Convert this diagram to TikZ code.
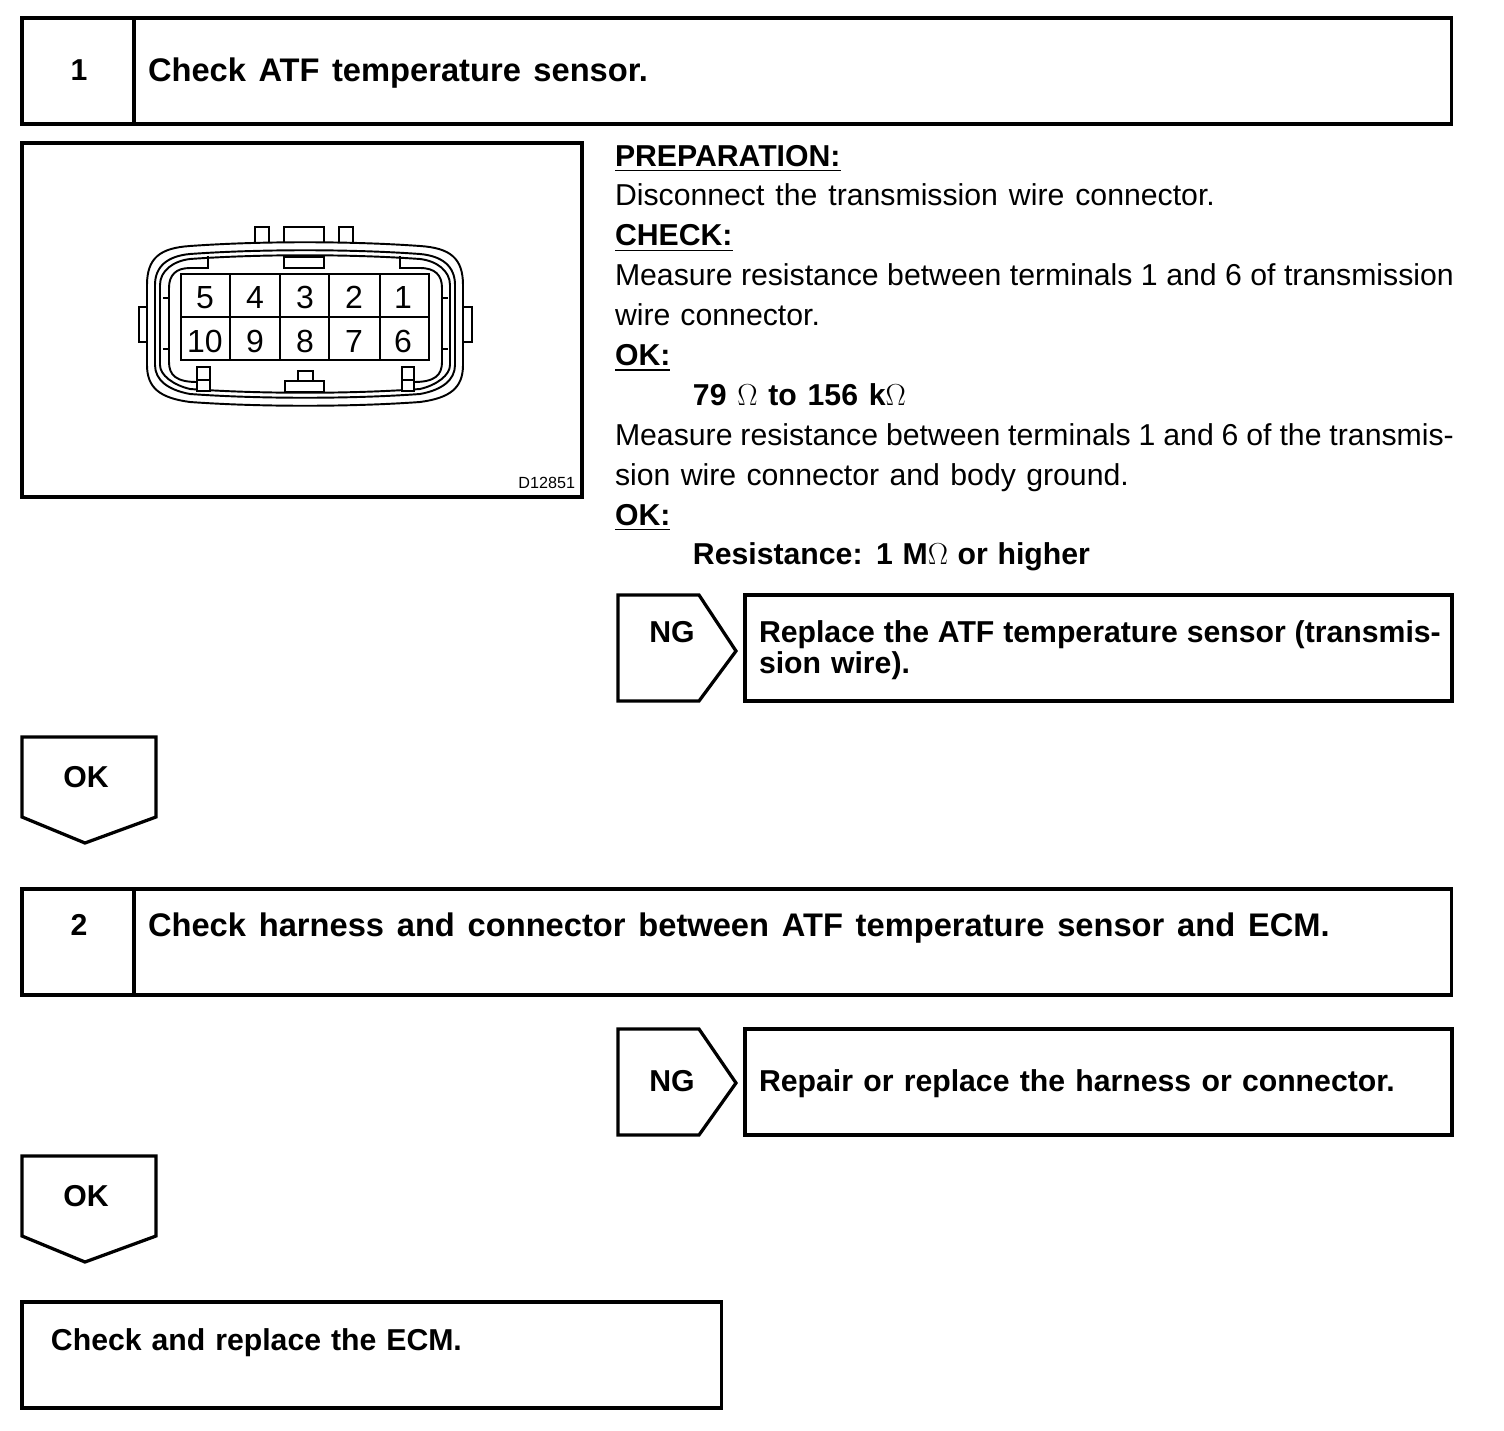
\documentclass[tikz,border=0pt]{standalone}
\usepackage{fontspec}
\setmainfont{Liberation Sans}
\usepackage{amsmath}
\usetikzlibrary{positioning}
\newcommand{\fitline}[2]{\makebox[#1][s]{#2}}

\begin{document}
\begin{tikzpicture}[
  x=0.02cm, y=-0.02cm,
  every node/.style={font=\fontsize{17.2}{22.7}\selectfont, inner sep=0pt, outer sep=0pt},
  box/.style={draw, line width=1.85pt, anchor=north west},
  numbox/.style={box, minimum width=2.24cm, minimum height=2.12cm},
  titlebox/.style={box, minimum width=26.36cm, minimum height=2.12cm},
  ngbox/.style={box, minimum width=14.14cm, minimum height=2.12cm},
  head/.style={font=\fontsize{17.2}{17.2}\selectfont\bfseries, anchor=base west},
  title/.style={font=\fontsize{18.6}{18.6}\selectfont\bfseries, anchor=base west},
  tag/.style={font=\fontsize{17.2}{17.2}\selectfont\bfseries, anchor=base},
  marker/.style={line width=1.85pt, line join=miter},
  conn/.style={line width=1.1pt},
  pin/.style={font=\fontsize{18.2}{18.2}\selectfont, anchor=base}
]
  \useasboundingbox (0,0) rectangle (1504,1430);

  % Step 1
  \node[numbox] (numa) at (22,18) {};
  \node[titlebox] (titlea) at (134,18) {};
  \node[tag] (numatext) at (79,80) {1};
  \node[title] (titleatext) at (148,81) {\fitline{10cm}{Check ATF temperature sensor.}};

  % Connector view
  \node[box, minimum width=11.2cm, minimum height=7.08cm] (figa) at (22,143) {};
  \node[font=\fontsize{9.2}{9.2}\selectfont, anchor=base east] (figlabel) at (575,488) {D12851};

  \foreach \i in {0,8,13} {
    \draw[conn] ({147+\i},285) .. controls ({147+\i},{258+\i}) and ({160+\i},{248+\i}) .. (190,{246+\i})
      .. controls (260,{241+\i}) and (350,{241+\i}) .. (420,{246+\i})
      .. controls ({450-\i},{248+\i}) and ({463-\i},{258+\i}) .. ({463-\i},285)
      -- ({463-\i},365) .. controls ({463-\i},{388-\i}) and ({450-\i},{398-\i}) .. (420,{402-\i})
      .. controls (350,{407-\i}) and (260,{407-\i}) .. (190,{402-\i})
      .. controls ({160+\i},{398-\i}) and ({147+\i},{388-\i}) .. ({147+\i},365) -- cycle;
  }
  % inner wall
  \draw[conn] (208,256) -- (208,268) -- (190,268) .. controls (176,268) and (169,275) .. (169,288)
    -- (169,362) .. controls (169,375) and (176,382) .. (197,382);
  \draw[conn] (400,256) -- (400,268) -- (420,268) .. controls (435,268) and (442,275) .. (442,288)
    -- (442,362) .. controls (442,375) and (435,382) .. (414,382);
  % tabs
  \draw[conn] (255,243) -- (255,227) -- (269,227) -- (269,243);
  \draw[conn] (284,243) -- (284,227) -- (324,227) -- (324,243);
  \draw[conn] (339,243) -- (339,227) -- (353,227) -- (353,243);
  \draw[conn, fill=white] (284,257) rectangle (324,268);
  \draw[conn, fill=white] (197,367) rectangle (210,391);
  \draw[conn] (197,380) -- (210,380);
  \draw[conn, fill=white] (402,367) rectangle (414,391);
  \draw[conn] (402,380) -- (414,380);
  \draw[conn, fill=white] (298,371) rectangle (313,381);
  \draw[conn, fill=white] (285,381) rectangle (324,392);
  \draw[conn] (147,307) -- (139,307) -- (139,342) -- (147,342);
  \draw[conn] (463,307) -- (472,307) -- (472,342) -- (463,342);
  \draw[conn] (163,298) -- (169,298) (163,349) -- (169,349);
  \draw[conn] (442,298) -- (448,298) (442,349) -- (448,349);
  % terminals
  \draw[conn, fill=white] (181,274) rectangle (429,360);
  \draw[conn] (181,317) -- (429,317);
  \foreach \x in {230,280,329,380} {
    \draw[conn] (\x,274) -- (\x,360);
  }
  \foreach \n/\x in {5/205,4/255,3/305,2/354,1/403} {
    \node[pin] (pin\n) at (\x,308) {\n};
  }
  \foreach \n/\x in {10/205,9/255,8/305,7/354,6/403} {
    \node[pin] (pin\n) at (\x,352) {\n};
  }

  % Instructions
  \node[anchor=north west, align=left] (prep) at (615,145) {%
    \underline{\textbf{PREPARATION:}}\\
    \fitline{12cm}{Disconnect the transmission wire connector.}\\
    \underline{\textbf{CHECK:}}\\
    \fitline{16.78cm}{Measure resistance between terminals 1 and 6 of transmission}\\
    \fitline{4.1cm}{wire connector.}\\
    \underline{\textbf{OK:}}\\
    \hspace*{1.56cm}\fitline{4.26cm}{\textbf{79 $\Omega$ to 156 k$\Omega$}}\\
    \fitline{16.78cm}{Measure resistance between terminals 1 and 6 of the transmis-}\\
    \fitline{10.28cm}{sion wire connector and body ground.}\\
    \underline{\textbf{OK:}}\\
    \hspace*{1.56cm}\fitline{7.94cm}{\textbf{Resistance: 1 M$\Omega$ or higher}}};

  % NG 1
  \draw[marker] (618,595) -- (699,595) -- (736,651) -- (699,701) -- (618,701) -- cycle;
  \node[tag] (nga) at (672,642) {NG};
  \node[ngbox] (repa) at (745,595) {};
  \node[head] (repatext) at (759,642) {\fitline{13.64cm}{Replace the ATF temperature sensor (transmis-}};
  \node[head] (repatextb) at (759,673) {\fitline{3.02cm}{sion wire).}};

  % OK 1
  \draw[marker] (22,737) -- (156,737) -- (156,817) -- (85,843) -- (22,817) -- cycle;
  \node[tag] (oka) at (86,787) {OK};

  % Step 2
  \node[numbox] (numb) at (22,889) {};
  \node[titlebox] (titleb) at (134,889) {};
  \node[tag] (numbtext) at (79,935) {2};
  \node[title] (titlebtext) at (148,936) {\fitline{23.64cm}{Check harness and connector between ATF temperature sensor and ECM.}};

  % NG 2
  \draw[marker] (618,1029) -- (699,1029) -- (736,1083) -- (699,1135) -- (618,1135) -- cycle;
  \node[tag] (ngb) at (672,1091) {NG};
  \node[ngbox] (repb) at (745,1029) {};
  \node[head] (repbtext) at (759,1091) {\fitline{12.72cm}{Repair or replace the harness or connector.}};

  % OK 2
  \draw[marker] (22,1156) -- (156,1156) -- (156,1236) -- (85,1262) -- (22,1236) -- cycle;
  \node[tag] (okb) at (86,1206) {OK};

  % Last box
  \node[box, minimum width=14cm, minimum height=2.12cm] (ecm) at (22,1302) {};
  \node[head] (ecmtext) at (51,1350) {\fitline{8.22cm}{Check and replace the ECM.}};

\end{tikzpicture}
\end{document}
